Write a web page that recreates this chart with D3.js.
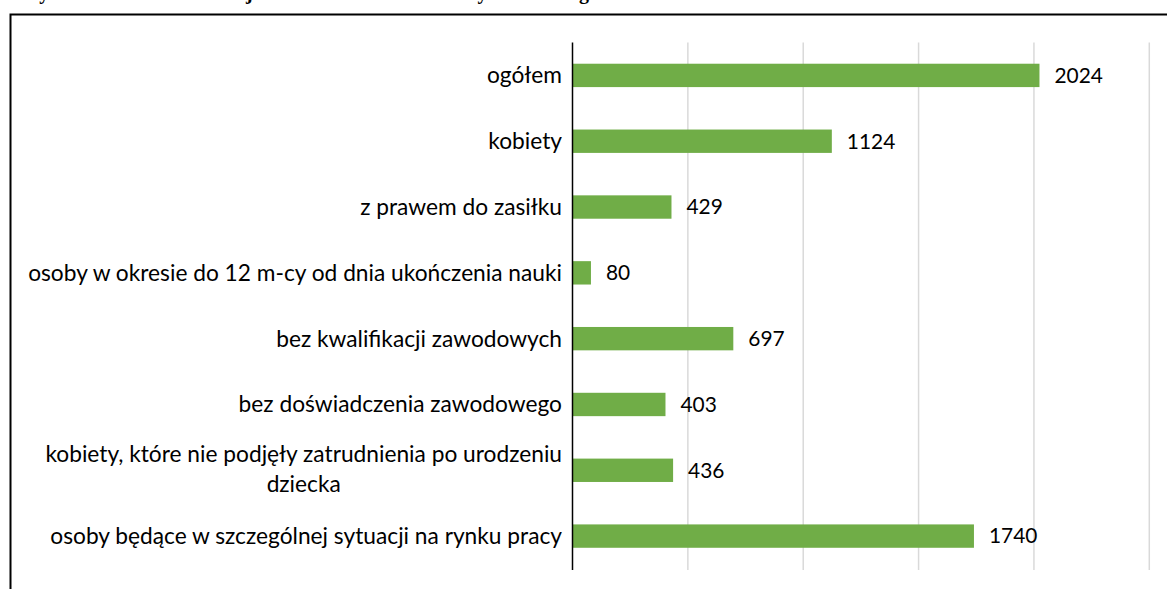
<!DOCTYPE html>
<html>
<head>
<meta charset="utf-8">
<script src="https://cdn.jsdelivr.net/npm/d3@7"></script>
<style>
  body { margin: 0; background: #fff; }
  svg { display: block; }
  .lbl, .val { font-family: Lato, "Open Sans", sans-serif; fill: #000; }
</style>
</head>
<body>
<div class="chart"></div>
<script>
var svgWidth = 1167;
var svgHeight = 589;

// data
var categories = [
  "ogółem",
  "kobiety",
  "z prawem do zasiłku",
  "osoby w okresie do 12 m-cy od dnia ukończenia nauki",
  "bez kwalifikacji zawodowych",
  "bez doświadczenia zawodowego",
  "kobiety, które nie podjęły zatrudnienia po urodzeniu|dziecka",
  "osoby będące w szczególnej sytuacji na rynku pracy"
];
var values = [2024, 1124, 429, 80, 697, 403, 436, 1740];
var tickValues = [0, 500, 1000, 1500, 2000, 2500];

var plot = { left: 572.5, right: 1149.3, top: 42.5, bottom: 569 };

var svg = d3.select(".chart")
  .append("svg")
  .attr("width", svgWidth)
  .attr("height", svgHeight);

// title, cut off at top of the picture (as in the original crop)
svg.append("text")
  .attr("x", 20)
  .attr("y", -1)
  .style("font-family", "'Liberation Serif', 'Times New Roman', serif")
  .style("font-weight", "bold")
  .style("font-size", "20px")
  .text("Wykres 2. Bezrobotni zarejestrowani w końcu roku wybrane kategorie");

// frame
svg.append("rect")
  .attr("x", 10.5)
  .attr("y", 14.5)
  .attr("width", 1300)
  .attr("height", 700)
  .attr("fill", "none")
  .attr("stroke", "#000")
  .attr("stroke-width", 2);

var x = d3.scaleLinear()
  .domain([0, 2500])
  .range([plot.left, plot.right]);

var y = d3.scaleBand()
  .domain(categories)
  .range([plot.top, plot.bottom])
  .paddingInner(0.645)
  .paddingOuter(0.3225);

// gridlines
svg.append("g")
  .selectAll("line")
  .data(tickValues.slice(1))
  .enter()
  .append("line")
  .attr("x1", d => x(d))
  .attr("x2", d => x(d))
  .attr("y1", plot.top)
  .attr("y2", plot.bottom + 1)
  .attr("stroke", "#d9d9d9")
  .attr("stroke-width", 1.5);

// bars
svg.append("g")
  .selectAll("rect")
  .data(values)
  .enter()
  .append("rect")
  .attr("x", x(0))
  .attr("y", (d, i) => y(categories[i]))
  .attr("width", d => x(d) - x(0))
  .attr("height", y.bandwidth())
  .attr("fill", "#70ad47");

// axis line
var leftAxis = d3.axisLeft(y).tickSize(0).tickFormat("");
var yAxis = svg.append("g")
  .attr("transform", `translate(${plot.left}, 0)`)
  .call(leftAxis);
yAxis.select(".domain")
  .attr("stroke", "#000")
  .attr("stroke-width", 1.5)
  .attr("d", `M0,${plot.top}V${plot.bottom + 1}`);

// fit font size so the longest label spans like the original
var probe = svg.append("text").attr("class", "lbl")
  .style("font-size", "20px")
  .text(categories[3]);
var fontSize = 20 * 534 / probe.node().getComputedTextLength();
probe.remove();

// category labels
var labels = svg.append("g")
  .selectAll("text")
  .data(categories)
  .enter()
  .append("text")
  .attr("class", "lbl")
  .style("font-size", fontSize + "px")
  .attr("y", d => y(d) + y.bandwidth() / 2)
  .attr("dy", "0.35em");

labels.each(function(d) {
  var el = d3.select(this);
  var lines = d.split("|");
  if (lines.length === 1) {
    el.attr("x", plot.left - 10.5).attr("text-anchor", "end").text(d);
  } else {
    // two-line label: lines centred on each other, block right aligned
    var t = el.append("tspan").text(lines[0]);
    var w = t.node().getComputedTextLength();
    var cx = plot.left - 10.5 - w / 2;
    el.attr("text-anchor", "middle");
    el.selectAll("tspan").remove();
    lines.forEach(function(line, k) {
      el.append("tspan")
        .attr("x", cx)
        .attr("dy", k === 0 ? "-0.35em" : "1.3em")
        .text(line);
    });
  }
});

// value labels
svg.append("g")
  .selectAll("text")
  .data(values)
  .enter()
  .append("text")
  .attr("class", "val")
  .style("font-size", (fontSize * 0.92) + "px")
  .attr("x", d => x(d) + 15)
  .attr("y", (d, i) => y(categories[i]) + y.bandwidth() / 2)
  .attr("dy", "0.35em")
  .text(d => d);
</script>
</body>
</html>
